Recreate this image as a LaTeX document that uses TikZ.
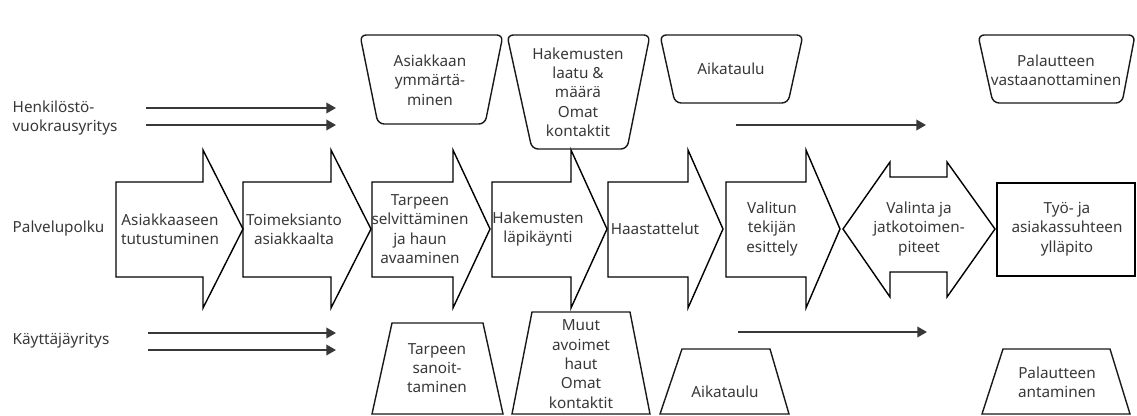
\documentclass[tikz,border=0pt]{standalone}
\usepackage{fontspec}
\setmainfont{Noto Sans}
\usetikzlibrary{arrows.meta}
\begin{document}
\begin{tikzpicture}[x=0.02cm,y=-0.02cm,line width=0.8pt,
  txt/.style={align=center,font=\fontsize{8.7}{11}\selectfont,text=black!78,inner sep=0pt},
  side/.style={txt,align=left,anchor=west},
  flow/.style={draw=black!78,line width=1.1pt,-{Triangle[length=5.5pt,width=6pt]}},
  topbox/.style={draw=black!90,rounded corners=3.5pt},
  botbox/.style={draw=black!90}]
\useasboundingbox (0,0) rectangle (1137,416);

% rows
\node[side] (hvy) at (12,118) {Henkilöstö-\\vuokrausyritys};
\node[side] (pp) at (12,229) {Palvelupolku};
\node[side] (ky) at (12,341) {Käyttäjäyritys};

% service path
\foreach \lft/\rgt/\tp/\tx/\txt [count=\i] in {116/203/243/170/{Asiakkaaseen\\tutustuminen},
    243/331/371/294/{Toimeksianto\\asiakkaalta},
    372/453/490/420/{Tarpeen\\selvittäminen\\ja haun\\avaaminen},
    492/571/607/538/{Hakemusten\\läpikäynti},
    608/688/723/655/{Haastattelut},
    726/806/840/772/{Valitun\\tekijän\\esittely}}
  {\draw (\lft,182) -- (\rgt,182) -- (\rgt,150) -- (\tp,229) -- (\rgt,308) -- (\rgt,277) -- (\lft,277) -- cycle;
   \node[txt] (s\i) at (\tx,229) {\txt};}
\draw (843,229) -- (890,162) -- (890,177) -- (947,177) -- (947,162) -- (995,229)
  -- (947,297) -- (947,272) -- (890,272) -- (890,297) -- cycle;
\node[txt] (s7) at (919,229) {Valinta ja\\jatkotoimen-\\piteet};
\draw (997,183) rectangle (1135,276);
\node[txt] (s8) at (1067,229) {Työ- ja\\asiakassuhteen\\ylläpito};

% henkilöstövuokrausyritys
\draw[topbox] (360,35) -- (503,35) -- (485,124) -- (378,124) -- cycle;
\node[txt] (t1) at (430,80) {Asiakkaan\\ymmärtä-\\minen};
\draw[topbox] (507,35) -- (650,35) -- (627,149) -- (532,149) -- cycle;
\node[txt] (t2) at (578,92) {Hakemusten\\laatu \&\\määrä\\Omat\\kontaktit};
\draw[topbox] (660,35) -- (803,35) -- (788,103) -- (675,103) -- cycle;
\node[txt] (t3) at (731,69) {Aikataulu};
\draw[topbox] (978,35) -- (1135,35) -- (1122,103) -- (993,103) -- cycle;
\node[txt] (t4) at (1056,70) {Palautteen\\vastaanottaminen};

% käyttäjäyritys
\draw[botbox] (392,323) -- (483,323) -- (503,414) -- (372,414) -- cycle;
\node[txt] (b1) at (437,368) {Tarpeen\\sanoit-\\taminen};
\draw[botbox] (532,312) -- (630,312) -- (650,414) -- (512,414) -- cycle;
\node[txt] (b2) at (581,364) {Muut\\avoimet\\haut\\Omat\\kontaktit};
\draw[botbox] (682,349) -- (770,349) -- (789,414) -- (660,414) -- cycle;
\node[txt] (b3) at (725,392) {Aikataulu};
\draw[botbox] (1003,349) -- (1110,349) -- (1130,414) -- (982,414) -- cycle;
\node[txt] (b4) at (1057,382) {Palautteen\\antaminen};

% arrows
\foreach \nm/\xa/\xb/\ya in {h1/146/336/108, h2/146/336/125, k1/148/336/333,
    k2/148/336/350, r1/736/926/125, r2/738/927/332}
  {\coordinate (\nm a) at (\xa,\ya);
   \coordinate (\nm b) at (\xb,\ya);
   \draw[flow] (\nm a) -- (\nm b);}
\end{tikzpicture}
\end{document}
